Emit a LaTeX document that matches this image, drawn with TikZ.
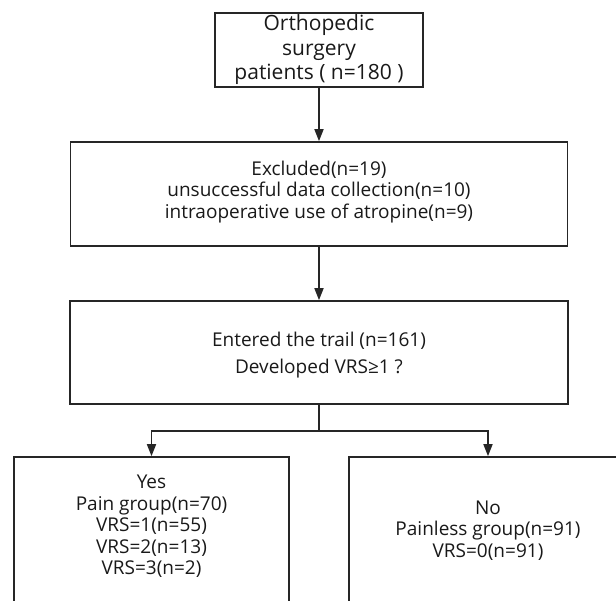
\documentclass[tikz,border=0pt]{standalone}
\usepackage{fontspec}
\setmainfont{Open Sans}
\usetikzlibrary{arrows.meta}
\tikzset{
  box/.style={draw=black!85, line width=1.6pt, inner sep=0pt, fill=none},
  txt/.style={align=center, inner sep=0pt, text=black!90, font=\fontsize{19}{21.5}\selectfont},
  arr/.style={draw=black!85, line width=1.6pt, -{Triangle[length=12pt,width=9pt]}},
  ln/.style={draw=black!85, line width=1.6pt},
}
\begin{document}
\begin{tikzpicture}[x=1pt,y=-1pt]
\useasboundingbox (0,0) rectangle (616,600);
\clip (0,0) rectangle (616,600);
% boxes
\node[box, minimum width=208pt, minimum height=74pt] (b1) at (319,50) {};
\node[box, minimum width=497pt, minimum height=104pt] (b2) at (319,194) {};
\node[box, minimum width=498pt, minimum height=103pt] (b3) at (319,352.5) {};
\node[box, minimum width=275pt, minimum height=160pt] (b4) at (151.5,537) {};
\node[box, minimum width=278pt, minimum height=160pt] (b5) at (488,537) {};
% texts
\node[txt, font=\fontsize{21}{24.5}\selectfont] (t1) at (319,50) {Orthopedic\\surgery\\patients ( n=180 )};
\node[txt] (t2) at (319,192) {Excluded(n=19)\\unsuccessful data collection(n=10)\\intraoperative use of atropine(n=9)};
\node[txt, font=\fontsize{19}{27}\selectfont] (t3) at (319,355) {Entered the trail (n=161)\\Developed VRS≥1 ?};
\node[txt, anchor=north] (t4) at (151.5,475) {Yes\\Pain group(n=70)\\VRS=1(n=55)\\VRS=2(n=13)\\VRS=3(n=2)};
\node[txt, anchor=north] (t5) at (488,500.5) {No\\Painless group(n=91)\\VRS=0(n=91)};
% connectors
\draw[arr] (b1.south) -- (b2.north);
\draw[arr] (b2.south) -- (b3.north);
\coordinate (j) at (319,431);
\draw[ln] (b3.south) -- (j);
\draw[arr] (j) -| (b4.north);
\draw[arr] (j) -| (b5.north);
\end{tikzpicture}
\end{document}
